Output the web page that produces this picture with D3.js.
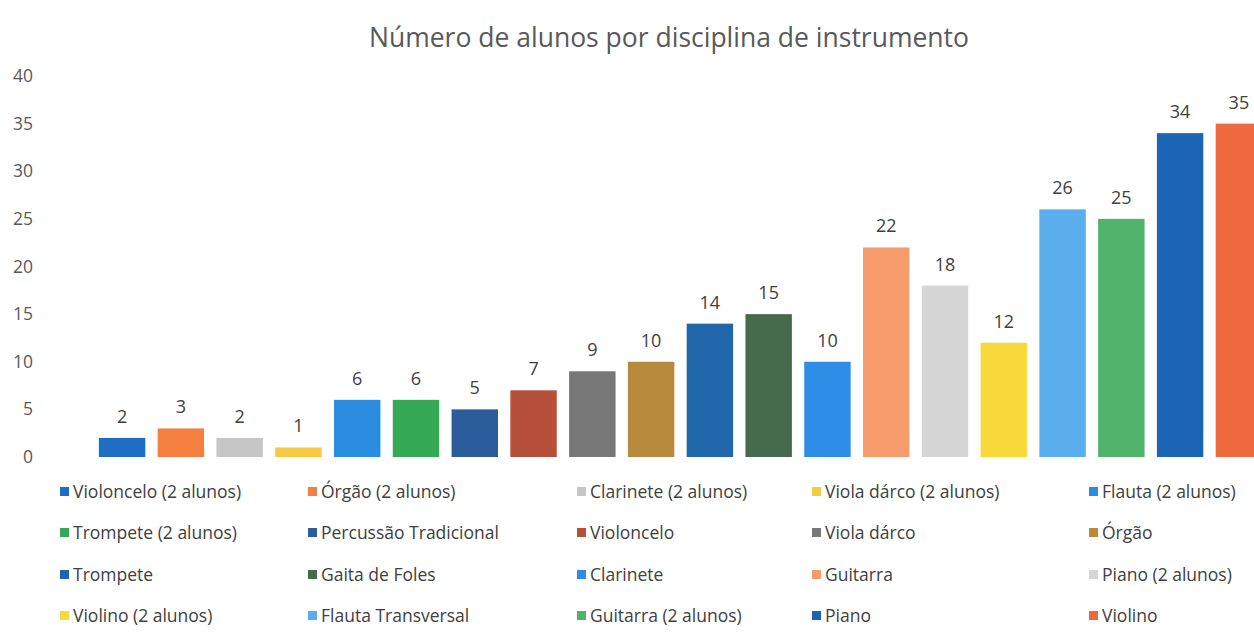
<!DOCTYPE html>
<html>
<head>
<meta charset="utf-8">
<script src="https://cdn.jsdelivr.net/npm/d3@7"></script>
<style>
  body { margin: 0; background: #fff; }
  svg { display: block; font-family: "Open Sans", sans-serif; }
</style>
</head>
<body>
<div id="chart"></div>
<script>
// chart data
var title = "Número de alunos por disciplina de instrumento";

var categories = [
  "Violoncelo (2 alunos)", "Órgão (2 alunos)", "Clarinete (2 alunos)", "Viola dárco (2 alunos)", "Flauta (2 alunos)",
  "Trompete (2 alunos)", "Percussão Tradicional", "Violoncelo", "Viola dárco", "Órgão",
  "Trompete", "Gaita de Foles", "Clarinete", "Guitarra", "Piano (2 alunos)",
  "Violino (2 alunos)", "Flauta Transversal", "Guitarra (2 alunos)", "Piano", "Violino"
];

var values = [2, 3, 2, 1, 6, 6, 5, 7, 9, 10, 14, 15, 10, 22, 18, 12, 26, 25, 34, 35];

var colors = [
  "#1f6ec6", "#f47f40", "#c6c6c6", "#f7c842", "#2b8de0",
  "#34a853", "#2b5c9b", "#b6503a", "#787878", "#b88a3c",
  "#1f66aa", "#466b4c", "#2d8ce6", "#f69c6c", "#d6d6d6",
  "#f8d93c", "#5aaeeb", "#4fb46a", "#1c64b6", "#ee6a3e"
];

var yTicks = [0, 5, 10, 15, 20, 25, 30, 35, 40];

var width = 1254, height = 632;

var svg = d3.select("#chart").append("svg")
    .attr("width", width)
    .attr("height", height);

// title
svg.append("text")
    .attr("x", 669)
    .attr("y", 47)
    .attr("text-anchor", "middle")
    .attr("font-size", 26.5)
    .attr("fill", "#595959")
    .text(title);

var x = d3.scaleBand()
    .domain(categories)
    .range([93, 93 + 58.75 * categories.length])
    .paddingInner(0.21)
    .paddingOuter(0.1);

var y = d3.scaleLinear()
    .domain([0, 40])
    .range([457, 76]);

// y axis, no line, no gridlines
var yAxis = svg.append("g")
    .attr("transform", "translate(33,0)")
    .call(d3.axisLeft(y).tickValues(yTicks).tickSize(0).tickPadding(0));
yAxis.select(".domain").remove();
yAxis.selectAll("text")
    .attr("font-family", "Open Sans, sans-serif")
    .attr("font-size", 17.5)
    .attr("fill", "#595959");

// bars
svg.append("g").selectAll("rect")
    .data(categories)
    .enter().append("rect")
    .attr("x", function (d) { return x(d); })
    .attr("y", function (d, i) { return y(values[i]); })
    .attr("width", x.bandwidth())
    .attr("height", function (d, i) { return y(0) - y(values[i]); })
    .attr("fill", function (d, i) { return colors[i]; });

// value labels
svg.append("g").selectAll("text")
    .data(categories)
    .enter().append("text")
    .attr("x", function (d) { return x(d) + x.bandwidth() / 2; })
    .attr("y", function (d, i) { return y(values[i]) - 15; })
    .attr("text-anchor", "middle")
    .attr("font-size", 18)
    .attr("fill", "#404040")
    .text(function (d, i) { return values[i]; });

// legend: 5 columns, 4 rows
var legendCols = [60, 308, 577, 812, 1089];
var legendRows = [492, 533, 575, 616];

var legend = svg.append("g").selectAll("g")
    .data(categories)
    .enter().append("g")
    .attr("transform", function (d, i) {
        return "translate(" + legendCols[i % 5] + "," + legendRows[Math.floor(i / 5)] + ")";
    });

legend.append("rect")
    .attr("x", 0)
    .attr("y", -5)
    .attr("width", 9)
    .attr("height", 9)
    .attr("fill", function (d, i) { return colors[i]; });

legend.append("text")
    .attr("x", 13)
    .attr("y", 0)
    .attr("dy", "0.35em")
    .attr("font-size", 17.5)
    .attr("fill", "#404040")
    .text(function (d) { return d; });
</script>
</body>
</html>
